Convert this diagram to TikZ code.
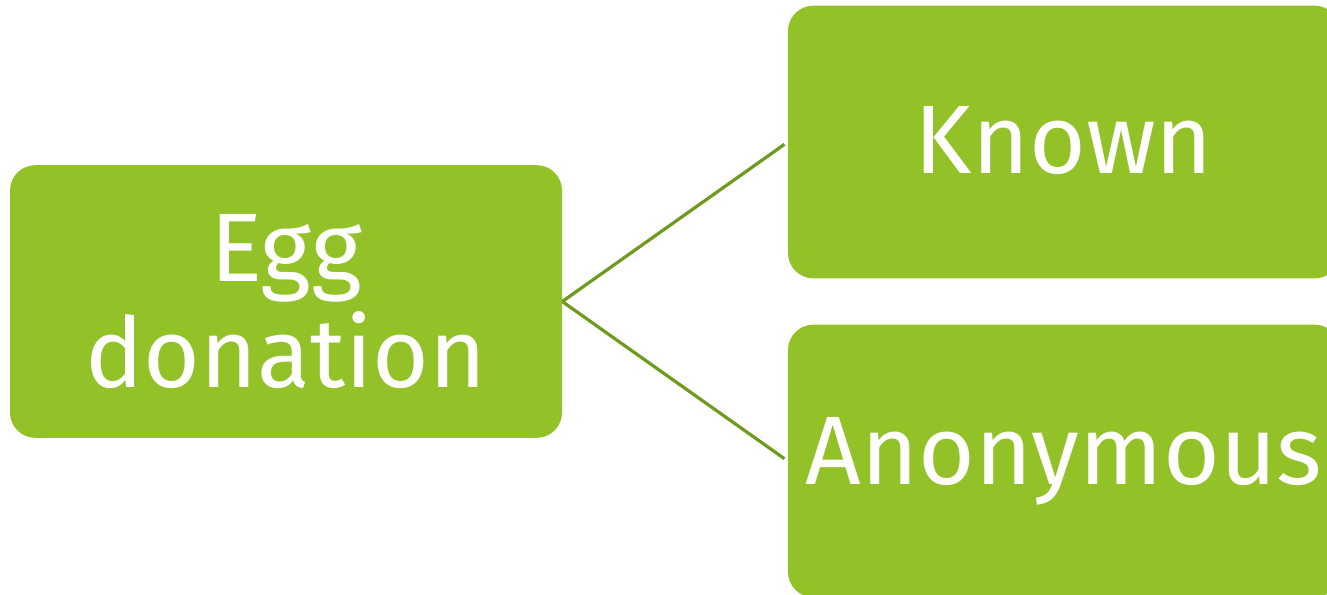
\documentclass[tikz,border=0pt]{standalone}
\usepackage{fontspec}
\setmainfont{Fira Sans}
\definecolor{boxgreen}{HTML}{92C228}
\definecolor{linegreen}{HTML}{6F9A1F}
\begin{document}
\begin{tikzpicture}[x=0.75pt,y=-0.75pt,
  greenbox/.style={rectangle, rounded corners=19pt, fill=boxgreen, draw=none,
    minimum width=414pt, minimum height=204.5pt, inner sep=0pt,
    text=white, align=center, font=\fontsize{73}{80}\selectfont},
  conn/.style={draw=linegreen, line width=2.4pt, shorten >=3pt}]
\useasboundingbox (0,0) rectangle (1327,594);
\clip (0,0) rectangle (1327,594);
\fill[white] (0,0) rectangle (1327,594);
\node[greenbox] (egg) at (286,301.5) {Egg\\donation};
\node[greenbox] (known) at (1064,142) {\raisebox{3pt}{Known}};
\node[greenbox] (anon) at (1064,461) {\raisebox{2pt}{Anonymous}};
\draw[conn] (egg.east) -- (known.west);
\draw[conn] (egg.east) -- (anon.west);
\end{tikzpicture}
\end{document}
